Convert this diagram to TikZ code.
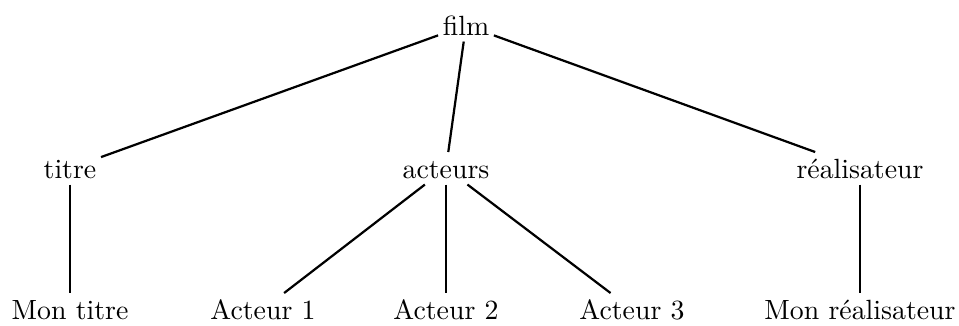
\documentclass[tikz,border=0pt]{standalone}
\begin{document}
\begin{tikzpicture}[x=0.3597pt,y=-0.3597pt,
  lbl/.style={anchor=base,inner sep=1.5pt,text height=8pt,text depth=0.3pt},
  edge/.style={line width=0.8pt}]
\useasboundingbox (0,0) rectangle (959,326);
\node[lbl] (film) at (466,36) {film};
\node[lbl] (titre) at (70,179) {titre};
\node[lbl] (acteurs) at (446,179) {acteurs};
\node[lbl] (real) at (860,179) {réalisateur};
\node[lbl] (montitre) at (70,320) {Mon titre};
\node[lbl] (a1) at (263,320) {Acteur 1};
\node[lbl] (a2) at (446,320) {Acteur 2};
\node[lbl] (a3) at (632,320) {Acteur 3};
\node[lbl] (monreal) at (860,320) {Mon réalisateur};
\draw[edge] (film) -- (titre);
\draw[edge] (film) -- (acteurs);
\draw[edge] (film) -- (real);
\draw[edge] (titre) -- (montitre);
\draw[edge] (acteurs) -- (a1);
\draw[edge] (acteurs) -- (a2);
\draw[edge] (acteurs) -- (a3);
\draw[edge] (real) -- (monreal);
\end{tikzpicture}
\end{document}
